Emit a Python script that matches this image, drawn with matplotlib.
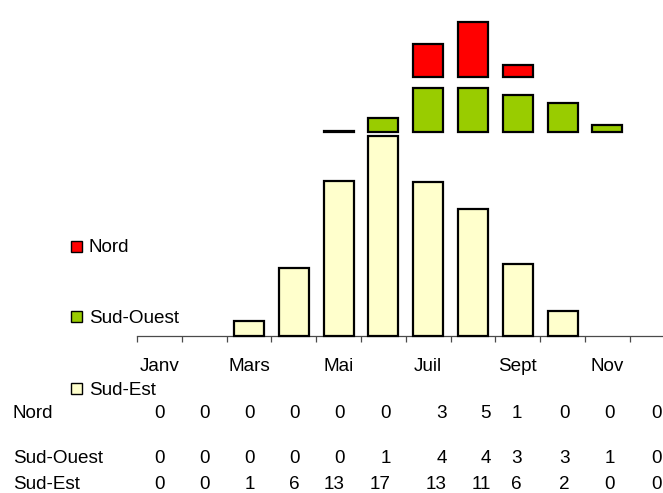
import matplotlib
matplotlib.use('Agg')
import matplotlib.pyplot as plt
from matplotlib import font_manager
from matplotlib.patches import Rectangle
import numpy as np

# ---------------- data ----------------
months = ['Janv', 'Févr', 'Mars', 'Avr', 'Mai', 'Juin', 'Juil', 'Août', 'Sept', 'Oct', 'Nov', 'Déc']
tick_labels = ['Janv', '', 'Mars', '', 'Mai', '', 'Juil', '', 'Sept', '', 'Nov', '']
series_names = ['Nord', 'Sud-Ouest', 'Sud-Est']
nord = [0, 0, 0, 0, 0, 0, 3.0, 5.0, 1.1, 0, 0, 0]
sud_ouest = [0, 0, 0, 0, 0.05, 1.27, 4.0, 4.0, 3.33, 2.64, 0.61, 0]
sud_est = [0, 0, 1.3, 5.8, 13.2, 17.0, 13.1, 10.8, 6.1, 2.1, 0, 0]
table_nord = [0, 0, 0, 0, 0, 0, 3, 5, 1, 0, 0, 0]
table_sud_ouest = [0, 0, 0, 0, 0, 1, 4, 4, 3, 3, 1, 0]
table_sud_est = [0, 0, 1, 6, 13, 17, 13, 11, 6, 2, 0, 0]
colors = ['#FF0000', '#99CC00', '#FFFFCC']

# ---------------- fonts ----------------
def has_font(name):
    try:
        font_manager.findfont(font_manager.FontProperties(family=name), fallback_to_default=False)
        return True
    except Exception:
        return False

if has_font('Liberation Sans Narrow'):
    FAM = ['Liberation Sans Narrow', 'DejaVu Sans']
    FS = 14.8
else:
    FAM = ['Liberation Sans', 'DejaVu Sans']
    FS = 13.6
plt.rcParams['font.family'] = FAM

W, H = 663, 493
fig = plt.figure(figsize=(W / 100, H / 100), dpi=100)

LEFT = 137
CAT_W = 44.8
AX_W = CAT_W * 12


def px_axes(bottom_y, height):
    return fig.add_axes([LEFT / W, (H - bottom_y) / H, AX_W / W, height / H])


# panel definitions: (values, color, baseline y px, height px, px per unit)
panels = [
    (sud_est, colors[2], 336.0, 210.0, 11.75),
    (sud_ouest, colors[1], 131.7, 50.0, 11.0),
    (nord, colors[0], 76.7, 70.0, 11.0),
]

x = np.arange(12)
axes = []
for vals, col, base, hgt, ppu in panels:
    ax = px_axes(base, hgt)
    ax.set_xlim(-0.5, 11.5)
    ax.set_ylim(0, hgt / ppu)
    ax.patch.set_alpha(0)
    v = np.array(vals, dtype=float)
    m = v > 0
    ax.bar(x[m], v[m], width=0.67, color=col, edgecolor='black', linewidth=1.6,
           clip_on=False, zorder=3)
    for s in ax.spines.values():
        s.set_visible(False)
    ax.set_yticks([])
    ax.set_xticks([])
    axes.append(ax)

# bottom axis of Sud-Est panel
ax0 = axes[0]
ax0.spines['bottom'].set_visible(True)
ax0.spines['bottom'].set_color('#4a4a4a')
ax0.spines['bottom'].set_linewidth(0.9)
ax0.set_xticks(np.arange(-0.5, 12.0, 1.0))
ax0.set_xticklabels([])
ax0.tick_params(axis='x', which='major', direction='out', length=4.4, width=0.9, color='#4a4a4a')
ax0.set_xticks(x, minor=True)
ax0.set_xticklabels(tick_labels, minor=True, fontsize=FS)
ax0.tick_params(axis='x', which='minor', length=0, pad=15.5)

# ---------------- legend (manual, left side) ----------------
leg = [('Nord', colors[0], 246.5, 252.0),
       ('Sud-Ouest', colors[1], 316.0, 323.0),
       ('Sud-Est', colors[2], 388.0, 395.0)]
SQ = 11.0
for name, col, cy, base in leg:
    fig.add_artist(Rectangle(((76 - SQ / 2) / W, (H - cy - SQ / 2) / H), SQ / W, SQ / H,
                             transform=fig.transFigure, facecolor=col,
                             edgecolor='black', linewidth=1.0))
    fig.text(89 / W, (H - base) / H, name, fontsize=FS, ha='left', va='baseline')

# ---------------- data table ----------------
col_right = [165, 210, 255, 300, 345, 391, 447, 491, 522, 570, 615, 662]
rows = [('Nord', table_nord, 418.0),
        ('Sud-Ouest', table_sud_ouest, 463.0),
        ('Sud-Est', table_sud_est, 489.0)]
for name, vals, base in rows:
    fig.text(13 / W, (H - base) / H, name, fontsize=FS, ha='left', va='baseline')
    for xr, v in zip(col_right, vals):
        fig.text(xr / W, (H - base) / H, str(v), fontsize=FS, ha='right', va='baseline')

fig.savefig('out.png', dpi=100)
